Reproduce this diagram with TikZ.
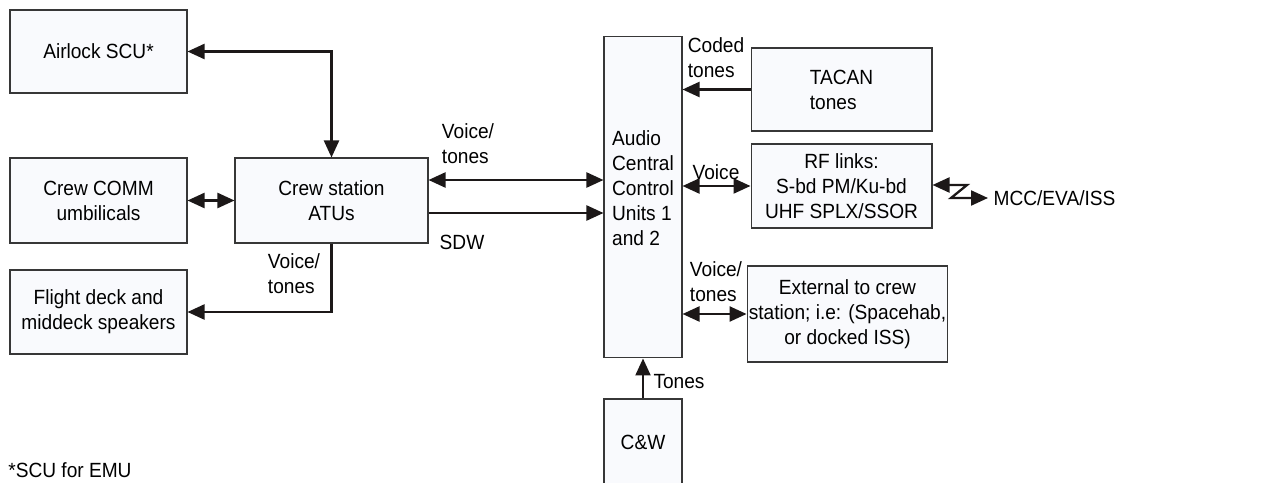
\documentclass[tikz,border=0pt]{standalone}
\usepackage{fontspec}
\setmainfont{Liberation Sans}[FakeStretch=0.93]
\usepackage{xcolor}
\usetikzlibrary{arrows.meta, positioning}
\definecolor{boxfill}{RGB}{249,250,253}
\definecolor{boxline}{RGB}{55,55,55}
\definecolor{wire}{RGB}{28,24,24}

\begin{document}
\begin{tikzpicture}[
  x=0.02cm, y=-0.02cm,
  unit/.style={draw=boxline, line width=0.6pt, fill=boxfill, align=center, inner sep=1pt},
  arr/.style={-{Triangle[length=0.34cm, width=0.3cm]}, line width=1.3pt, draw=wire},
  dbl/.style={{Triangle[length=0.34cm, width=0.3cm]}-{Triangle[length=0.34cm, width=0.3cm]}, line width=1.3pt, draw=wire},
  lbl/.style={inner sep=0pt, align=left},
  font=\fontsize{11.7}{14.2}\selectfont
]
\useasboundingbox (0,0) rectangle (1267,483);
\clip (0,0) rectangle (1267,483);

\node[unit, minimum width=3.54cm, minimum height=1.66cm] (airlock) at (98.5,51.5) {Airlock SCU*};
\node[unit, minimum width=3.54cm, minimum height=1.70cm] (umbil) at (98.5,200.5) {Crew COMM\\umbilicals};
\node[unit, minimum width=3.86cm, minimum height=1.70cm] (atu) at (331.5,200.5) {Crew station\\ATUs};
\node[unit, minimum width=3.54cm, minimum height=1.68cm] (speak) at (98.5,312) {Flight deck and\\middeck speakers};
\node[unit, align=left, text depth=0.37cm, minimum width=1.56cm, minimum height=6.44cm] (acc) at (643,197) {Audio\\Central\\Control\\Units 1\\and 2};
\node[unit, align=left, minimum width=3.62cm, minimum height=1.66cm] (tacan) at (841.5,89.5) {TACAN\\tones};
\node[unit, minimum width=3.62cm, minimum height=1.68cm] (rf) at (841.5,186) {RF links:\\S-bd PM/Ku-bd\\UHF SPLX/SSOR};
\node[unit, minimum width=3.98cm, minimum height=1.92cm] (ext) at (847.5,314) {External to crew\\station; i.e: (Spacehab,\\or docked ISS)};
\node[unit, minimum width=1.56cm, minimum height=1.72cm] (cw) at (643,442) {C\&W};

\node[lbl] (vtatu) at (468,144) {Voice/\\tones};
\node[lbl] (sdw) at (462,242) {SDW};
\node[lbl] (vtspk) at (294,274) {Voice/\\tones};
\node[lbl] (coded) at (716,58) {Coded\\tones};
\node[lbl] (vrf) at (716,172) {Voice};
\node[lbl] (vtext) at (716,282) {Voice/\\tones};
\node[lbl] (tones) at (679,382) {Tones};
\node[lbl, anchor=west] (note) at (8,470) {*SCU for EMU};
\node[lbl, anchor=west, inner sep=3pt] (mcc) at (988,198) {MCC/EVA/ISS};
\coordinate (zz1) at (967,185);
\coordinate (zz2) at (951,198);

\draw[dbl] (airlock.east) -| (atu.north);
\draw[dbl] (umbil) -- (atu);
\draw[arr] (atu.south) |- (speak.east);
\draw[dbl] ([yshift=0.41cm]atu.east) -- ([yshift=0.41cm]atu.east -| acc.west);
\draw[arr] ([yshift=-0.25cm]atu.east) -- ([yshift=-0.25cm]atu.east -| acc.west);
\draw[arr] (tacan.west) -- (tacan.west -| acc.east);
\draw[dbl] (rf.west) -- (rf.west -| acc.east);
\draw[dbl] (ext.west) -- (ext.west -| acc.east);
\draw[arr] (cw.north) -- (acc.south);
\draw[dbl] ([yshift=0.02cm]rf.east) -- (zz1) -- (zz2) -- (mcc.west);
\end{tikzpicture}
\end{document}
